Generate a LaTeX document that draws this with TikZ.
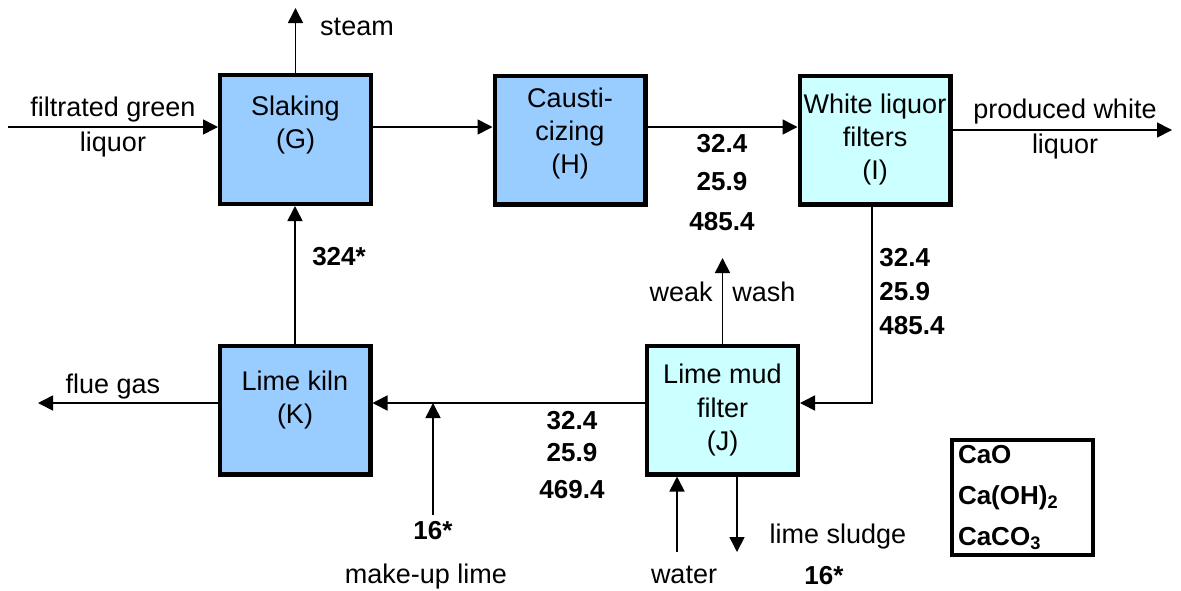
\documentclass[tikz,border=0pt]{standalone}
\usepackage{fontspec}
\setmainfont{Liberation Sans}
\usetikzlibrary{arrows.meta}
\definecolor{procblue}{HTML}{99CCFF}
\definecolor{proccyan}{HTML}{CCFFFF}
\begin{document}
\begin{tikzpicture}[x=0.5pt,y=-0.5pt,
  every node/.style={font=\fontsize{13.5}{16.5}\selectfont, inner sep=0pt},
  proc/.style={draw, line width=2.2pt, minimum width=75.3pt, minimum height=64.3pt, align=center},
  flow/.style={line width=0.8pt, -{Triangle[length=7.5pt,width=7.5pt]}},
  plain/.style={line width=0.8pt},
  two/.style={align=center, font=\fontsize{13.5}{17.5}\selectfont},
  num/.style={font=\fontsize{13}{16}\selectfont\bfseries},
  legendbox/.style={draw, line width=2pt, text width=64.5pt, minimum height=57.5pt,
    inner xsep=3pt, align=left, font=\fontsize{13}{20.5}\selectfont\bfseries}]
\useasboundingbox (0,0) rectangle (1181,590);

% process boxes
\node[proc, fill=procblue, text depth=17pt] (G) at (295.5,139.5) {Slaking\\(G)};
\node[proc, fill=procblue, text depth=8.8pt] (H) at (570,140) {Causti-\\cizing\\(H)};
\node[proc, fill=proccyan] (I) at (875,140) {White liquor\\filters\\(I)};
\node[proc, fill=proccyan] (J) at (722.5,410) {Lime mud\\filter\\(J)};
\node[proc, fill=procblue, text depth=12.8pt] (K) at (295,410) {Lime kiln\\(K)};

% helper coordinates
\coordinate (r1) at (0,127);
\coordinate (r3) at (0,403);
\coordinate (fgin) at (8,127);
\coordinate (steamend) at (0,8);
\coordinate (pwl) at (1172,130);
\coordinate (bend) at (872,403);
\coordinate (wwend) at (0,258);
\coordinate (mu) at (433,515);
\coordinate (flue) at (38,403);
\coordinate (wat) at (677,552);
\coordinate (sl) at (737,552);

% connectors
\draw[flow] (fgin) -- (G.west |- r1);
\draw[flow] (G.north) -- (G.north |- steamend);
\draw[flow] (G.east |- r1) -- (H.west |- r1);
\draw[flow] (H.east |- r1) -- (I.west |- r1);
\draw[flow] (I.east |- pwl) -- (pwl);
\draw[flow] (I.south -| bend) -- (bend) -- (J.east |- bend);
\draw[flow] (J.north) -- (J.north |- wwend);
\draw[flow] (J.west |- r3) -- (K.east |- r3);
\draw[flow] (mu) -- (mu |- r3);
\draw[flow] (K.west |- r3) -- (flue);
\draw[flow] (K.north) -- (K.north |- G.south);
\draw[flow] (wat) -- (wat |- J.south);
\draw[flow] (sl |- J.south) -- (sl);

% labels
\node[two] (tfg) at (113,127) {filtrated green\\liquor};
\node (tsteam) at (357,27) {steam};
\node[two] (tpwl) at (1065,129) {produced white\\liquor};
\node[num] (n1a) at (722,144) {32.4};
\node[num] (n1b) at (722,182) {25.9};
\node[num] (n1c) at (722,222) {485.4};
\node[num, anchor=west] (n2a) at (879,258) {32.4};
\node[num, anchor=west] (n2b) at (879,292) {25.9};
\node[num, anchor=west] (n2c) at (879,326) {485.4};
\node[num] (n3a) at (572,421) {32.4};
\node[num] (n3b) at (572,453) {25.9};
\node[num] (n3c) at (572,490) {469.4};
\node[num] (n324) at (339,257) {324*};
\node[num] (n16a) at (433,531) {16*};
\node (tmu) at (426,577) {make-up lime};
\node (tflue) at (113,387) {flue gas};
\node[anchor=east] (tweak) at (713,292) {weak};
\node[anchor=west] (twash) at (732,292) {wash};
\node (twater) at (684,575) {water};
\node (tsludge) at (838,537) {lime sludge};
\node[num] (n16b) at (824,576) {16*};

% legend
\node[legendbox] (legend) at (1022.5,497.5) {CaO\\Ca(OH)\textsubscript{2}\\CaCO\textsubscript{3}};
\end{tikzpicture}
\end{document}
